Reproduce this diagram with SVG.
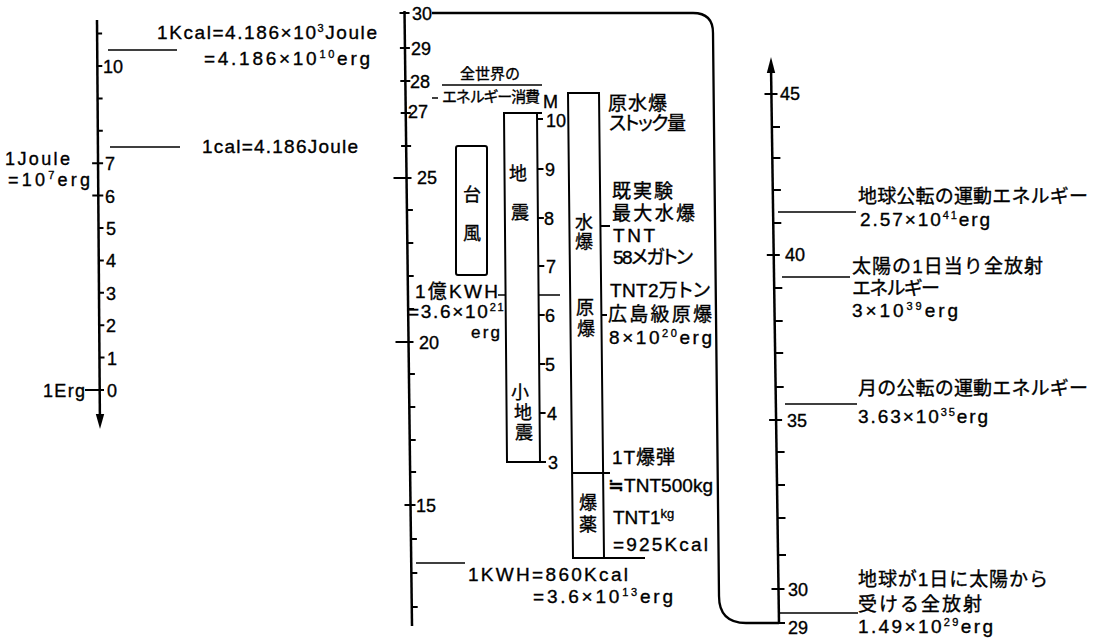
<svg xmlns="http://www.w3.org/2000/svg" width="1101" height="641" viewBox="0 0 1101 641">
<style>
text{font-family:"Liberation Sans","Noto Sans CJK JP",sans-serif;fill:#000;stroke:#000;stroke-width:0.35}
.n{font-size:18px}
.t{font-size:19px}
.s{font-size:15px}
.b{font-size:18px;text-anchor:middle}
.p{font-feature-settings:"palt"}
.sup{font-size:11px}
.ax{stroke:#000;stroke-width:2.5;fill:none}
.tk{stroke:#000;stroke-width:2;fill:none}
.ln{stroke:#000;stroke-width:1.3;fill:none}
.bx{stroke:#000;stroke-width:2;fill:#fff}
.cn{stroke:#000;stroke-width:2.3;fill:none}
</style>
<rect width="1101" height="641" fill="#fff"/>

<g id="connectors">
<path class="cn" d="M432,13 H693 Q713,13 713,33 L719,596 Q719,623 746,623 H779"/>
<path class="ln" d="M108,50 H177 M110,147 H180 M416,563 H465 M498,295 H560 M432,98 H438 M442,85 H542 M778,212 H856 M782,277 H850 M785,404 H857 M779,613 H858"/>
</g>

<g id="axis-left">
<path class="ax" d="M97,20 L99.9,418"/>
<polygon points="100,429 95.8,414 104.2,414"/>
<path class="tk" d="M97.1,33.6 h5 M97.3,66 h5 M97.6,98.4 h5 M97.8,130.8 h5 M92.1,163.2 h11 M92.3,195.6 h11 M98.5,228 h5 M98.8,260.4 h5 M99,292.8 h5 M99.3,325.2 h5 M99.5,357.6 h5 M85,390 H104"/>
<text class="n" x="103" y="73">10</text>
<text class="n" x="105" y="170">7</text>
<text class="n" x="105" y="203">6</text>
<text class="n" x="106" y="235">5</text>
<text class="n" x="106" y="267">4</text>
<text class="n" x="106" y="300">3</text>
<text class="n" x="106" y="332">2</text>
<text class="n" x="107" y="365">1</text>
<text class="n" x="107" y="397">0</text>
</g>

<g id="labels-left">
<text class="t" x="157" y="39" textLength="220">1Kcal=4.186×10<tspan class="sup" dy="-7">3</tspan><tspan dy="7">Joule</tspan></text>
<text class="t" x="204" y="65" textLength="166">=4.186×10<tspan class="sup" dy="-7">10</tspan><tspan dy="7">erg</tspan></text>
<text class="t" x="202" y="153" textLength="156">1cal=4.186Joule</text>
<text class="n" x="5" y="165" textLength="65">1Joule</text>
<text class="n" x="8" y="186" textLength="82">=10<tspan class="sup" dy="-7">7</tspan><tspan dy="7">erg</tspan></text>
<text class="n" x="43" y="397" textLength="42">1Erg</text>
</g>

<g id="axis-middle">
<path class="ax" d="M404.5,11 L412,626"/>
<path class="tk" d="M399.5,13 h10 M399.9,48 h10 M400.3,81 h10 M400.7,113 h10 M401.1,146 h10 M393.5,178 h18 M406.9,210 h6 M407.3,243 h6 M407.7,276 h6 M408.1,309 h6 M395.5,342 h18 M408.9,374 h6 M409.3,407 h6 M409.7,440 h6 M410.1,472 h6 M404.5,505 h11 M410.9,539 h6 M411.3,573 h6 M411.7,607 h6"/>
<text class="n" x="412" y="20">30</text>
<text class="n" x="411" y="55">29</text>
<text class="n" x="410" y="88">28</text>
<text class="n" x="408" y="118">27</text>
<text class="n" x="417" y="184">25</text>
<text class="n" x="419" y="349">20</text>
<text class="n" x="416" y="512">15</text>
</g>

<g id="label-world">
<text class="s" x="460" y="79" textLength="60">全世界の</text>
<text class="s" x="442" y="102" textLength="98">エネルギー消費</text>
</g>

<g id="label-100m-kwh">
<text class="t" x="415" y="298" textLength="83">1億KWH</text>
<text class="t" x="408" y="318" letter-spacing="1.7">=3.6×10<tspan class="sup" dy="-7">21</tspan></text>
<text x="471" y="338" font-size="17" textLength="29">erg</text>
</g>

<g id="label-1kwh">
<text class="t" x="468" y="581" textLength="160">1KWH=860Kcal</text>
<text class="t" x="533" y="603" textLength="140">=3.6×10<tspan class="sup" dy="-7">13</tspan><tspan dy="7">erg</tspan></text>
</g>

<g id="box-typhoon">
<rect class="bx" x="456" y="146" width="31" height="129" rx="2"/>
<text class="b" x="472" y="201">台</text>
<text class="b" x="472" y="240">風</text>
</g>

<g id="box-earthquake">
<polygon class="bx" points="504,113 537,113 540,462 507,462"/>
<path class="tk" d="M537,113 H542 M537,119 h6 M537.5,169 h6 M537.9,218 h6 M538.3,266 h6 M538.7,315 h6 M539.2,364 h6 M539.6,413 h6 M540,462 h6"/>
<text class="b" x="518" y="180">地</text>
<text class="b" x="520" y="219">震</text>
<text class="b" x="520" y="399">小</text>
<text class="b" x="523" y="419">地</text>
<text class="b" x="524" y="439">震</text>
<text class="n" x="543" y="108">M</text>
<text class="n" x="546" y="127">10</text>
<text class="n" x="545" y="176">9</text>
<text class="n" x="544" y="225">8</text>
<text class="n" x="546" y="273">7</text>
<text class="n" x="545" y="322">6</text>
<text class="n" x="545" y="371">5</text>
<text class="n" x="547" y="420">4</text>
<text class="n" x="548" y="469">3</text>
</g>

<g id="box-bombs">
<polygon class="bx" points="568,93 599,93 604,558 573,558"/>
<path class="tk" d="M572.1,473 H610 M573,558 H645 M600.4,226 H610 M601.4,315 H607"/>
<text class="b" x="584" y="229">水</text>
<text class="b" x="584" y="248">爆</text>
<text class="b" x="585" y="314">原</text>
<text class="b" x="586" y="335">爆</text>
<text class="b" x="588" y="509">爆</text>
<text class="b" x="588" y="531">薬</text>
</g>

<g id="labels-bombs">
<text class="t" x="608" y="110" textLength="59">原水爆</text>
<text class="t p" x="609" y="130" textLength="77">ストック量</text>
<text class="t" x="612" y="198" textLength="61">既実験</text>
<text class="t" x="612" y="220" textLength="83">最大水爆</text>
<text class="t" x="613" y="242" textLength="42">TNT</text>
<text class="t p" x="613" y="264" textLength="80">58メガトン</text>
<text class="t p" x="610" y="297" textLength="100">TNT2万トン</text>
<text class="t" x="608" y="321" textLength="104">広島級原爆</text>
<text class="t" x="609" y="344" textLength="103">8×10<tspan class="sup" dy="-7">20</tspan><tspan dy="7">erg</tspan></text>
<text class="t" x="612" y="464" textLength="63">1T爆弾</text>
<text class="t" x="608" y="492" textLength="105">≒TNT500kg</text>
<text class="t" x="613" y="524">TNT1<tspan font-size="13" dy="-6">kg</tspan></text>
<text class="t" x="613" y="551" textLength="95">=925Kcal</text>
</g>

<g id="axis-right">
<path class="ax" d="M771,66 L779,623"/>
<polygon points="771,57 766.8,73 775.2,73"/>
<path class="tk" d="M764.5,94 h13 M772,127 h8 M772.4,158 h8 M772.9,190 h8 M773.3,223 h8 M766.8,255 h13 M774.3,288 h8 M774.7,321 h8 M775.2,353 h8 M775.7,387 h8 M769.1,420 h13 M776.6,452 h8 M777,485 h8 M777.5,518 h8 M778,555 h8 M771.5,589 h13 M779,623 h6"/>
<text class="n" x="780" y="100">45</text>
<text class="n" x="785" y="261">40</text>
<text class="n" x="787" y="427">35</text>
<text class="n" x="788" y="596">30</text>
<text class="n" x="788" y="634">29</text>
</g>

<g id="label-earth-orbit">
<text class="t" x="858" y="203" textLength="230">地球公転の運動エネルギー</text>
<text class="t" x="860" y="226" textLength="130">2.57×10<tspan class="sup" dy="-7">41</tspan><tspan dy="7">erg</tspan></text>
</g>
<g id="label-sun-day">
<text class="t" x="852" y="273" textLength="191">太陽の1日当り全放射</text>
<text class="t" x="852" y="295" textLength="88">エネルギー</text>
<text class="t" x="852" y="317" textLength="106">3×10<tspan class="sup" dy="-7">39</tspan><tspan dy="7">erg</tspan></text>
</g>
<g id="label-moon-orbit">
<text class="t" x="858" y="395" textLength="230">月の公転の運動エネルギー</text>
<text class="t" x="858" y="423" textLength="130">3.63×10<tspan class="sup" dy="-7">35</tspan><tspan dy="7">erg</tspan></text>
</g>
<g id="label-earth-receives">
<text class="t" x="858" y="586" textLength="190">地球が1日に太陽から</text>
<text class="t" x="858" y="611" textLength="124">受ける全放射</text>
<text class="t" x="858" y="633" textLength="135">1.49×10<tspan class="sup" dy="-7">29</tspan><tspan dy="7">erg</tspan></text>
</g>
</svg>
